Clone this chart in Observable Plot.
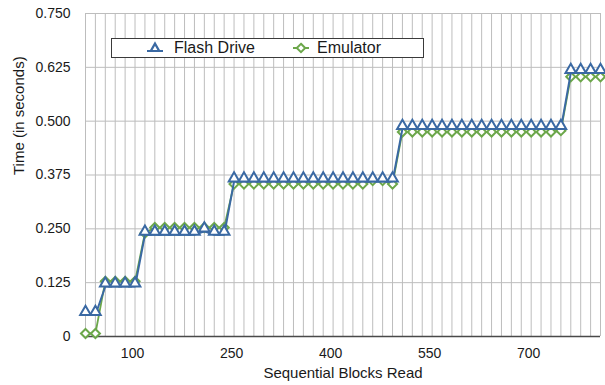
<!DOCTYPE html>
<html>
<head>
<meta charset="utf-8">
<script src="https://cdn.jsdelivr.net/npm/d3@7"></script>
<script src="https://cdn.jsdelivr.net/npm/@observablehq/plot@0.6"></script>
<style>
  html, body { margin: 0; padding: 0; background: #fff; }
  #wrap { position: relative; width: 605px; height: 385px; font-family: "Liberation Sans", Arial, Helvetica, sans-serif; color: #1a1a1a; }
  #legend { position: absolute; left: 111px; top: 38px; width: 311px; height: 18px; border: 1.5px solid #3a3a3a; background: #fff; box-sizing: content-box; }
  #legend .item { position: absolute; top: 0; height: 18px; display: flex; align-items: center; font-size: 16px; }
  #legend svg { display: block; }
</style>
</head>
<body>
<div id="wrap"></div>
<script>
// ---- data ----
const blocks = [25, 40, 55, 70, 85, 100, 115, 130, 145, 160, 175, 190, 205, 220, 235, 250, 265, 280, 295, 310,
  325, 340, 355, 370, 385, 400, 415, 430, 445, 460, 475, 490, 505, 520, 535, 550, 565, 580, 595, 610,
  625, 640, 655, 670, 685, 700, 715, 730, 745, 760, 775, 790, 805];
const flashDrive = [0.050, 0.050,
  0.116, 0.116, 0.116, 0.116,
  0.236, 0.236, 0.236, 0.236, 0.236, 0.236, 0.244, 0.236, 0.236,
  0.360, 0.360, 0.360, 0.360, 0.360, 0.360, 0.360, 0.360, 0.360, 0.360, 0.360, 0.360, 0.360, 0.360, 0.360, 0.360, 0.360,
  0.482, 0.482, 0.482, 0.482, 0.482, 0.482, 0.482, 0.482, 0.482, 0.482, 0.482, 0.482, 0.482, 0.482, 0.482, 0.482, 0.482,
  0.612, 0.612, 0.612, 0.612];
const emulator = [0.007, 0.007,
  0.128, 0.128, 0.128, 0.128,
  0.240, 0.253, 0.253, 0.253, 0.253, 0.253, 0.253, 0.253, 0.253,
  0.354, 0.354, 0.354, 0.354, 0.354, 0.354, 0.354, 0.354, 0.354, 0.354, 0.354, 0.354, 0.354, 0.354, 0.362, 0.362, 0.354,
  0.475, 0.475, 0.475, 0.475, 0.475, 0.475, 0.475, 0.475, 0.475, 0.475, 0.475, 0.475, 0.475, 0.475, 0.475, 0.475, 0.478,
  0.603, 0.603, 0.603, 0.603];
const yTicks = [0, 0.125, 0.25, 0.375, 0.5, 0.625, 0.75];
const xTicks = [100, 250, 400, 550, 700];
const seriesNames = ["Flash Drive", "Emulator"];
const blue = "#3a69a3";
const green = "#6ca74a";

const flashRows = blocks.map((b, i) => ({b, v: flashDrive[i]}));
const emuRows = blocks.map((b, i) => ({b, v: emulator[i]}));

const chart = Plot.plot({
  width: 605,
  height: 385,
  marginLeft: 85,
  marginRight: 5,
  marginTop: 13,
  marginBottom: 49,
  style: { fontFamily: "'Liberation Sans', Arial, Helvetica, sans-serif", fontSize: "14px", color: "#1a1a1a", background: "#fff", overflow: "visible" },
  x: { type: "linear", domain: [25, 805], label: null },
  y: { domain: [0, 0.75], label: null },
  marks: [
    Plot.gridX(blocks, { stroke: "#bdbdbd", strokeOpacity: 1, strokeWidth: 1 }),
    Plot.gridY(yTicks, { stroke: "#bdbdbd", strokeOpacity: 1, strokeWidth: 1 }),
    Plot.ruleY([0], { stroke: "#4a4a4a", strokeWidth: 1.5 }),
    Plot.axisX(xTicks, { tickSize: 0, tickPadding: 12, dx: -2.5, fontSize: 14, tickFormat: d => String(d) }),
    Plot.axisY(yTicks, { tickSize: 0, tickPadding: 15, fontSize: 14, tickFormat: d => d === 0 ? "0" : d.toFixed(3) }),
    Plot.text(["Sequential Blocks Read"], { frameAnchor: "bottom", dy: 41, fontSize: 15, fill: "#1a1a1a" }),
    Plot.text(["Time (in seconds)"], { frameAnchor: "left", dx: -66, rotate: -90, fontSize: 15, fill: "#1a1a1a" }),
    Plot.line(emuRows, { x: "b", y: "v", stroke: green, strokeWidth: 1.8 }),
    Plot.dot(emuRows, { x: "b", y: "v", symbol: "diamond2", r: 4.1, stroke: green, strokeWidth: 2, fill: "#fff" }),
    Plot.line(flashRows, { x: "b", y: "v", stroke: blue, strokeWidth: 2 }),
    Plot.dot(flashRows, { x: "b", y: "v", symbol: "triangle", r: 3.95, dy: -3.1, stroke: blue, strokeWidth: 2, fill: "#fff" })
  ]
});

const wrap = document.getElementById("wrap");
wrap.appendChild(chart);

// legend overlay
const legend = document.createElement("div");
legend.id = "legend";
legend.innerHTML = `
  <div class="item" style="left:35px"><svg width="16" height="14" viewBox="-8 -7 16 14" style="margin-right:11px">
     <line x1="-8" x2="8" y1="3" y2="3" stroke="${blue}" stroke-width="2"/>
     <path d="M0,-4.4L4.2,3L-4.2,3Z" fill="#fff" stroke="${blue}" stroke-width="2.2"/></svg>${seriesNames[0]}</div>
  <div class="item" style="left:181px"><svg width="16" height="14" viewBox="-8 -7 16 14" style="margin-right:8px">
     <line x1="-8" x2="8" y1="0" y2="0" stroke="${green}" stroke-width="2"/>
     <path d="M0,-4.2L4.2,0L0,4.2L-4.2,0Z" fill="#fff" stroke="${green}" stroke-width="2"/></svg>${seriesNames[1]}</div>`;
wrap.appendChild(legend);
</script>
</body>
</html>
